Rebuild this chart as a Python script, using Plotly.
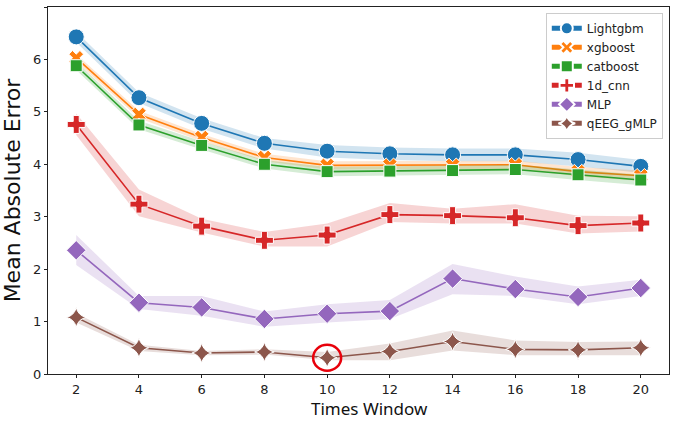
import plotly.graph_objects as go

windows = [2, 4, 6, 8, 10, 12, 14, 16, 18, 20]

lightgbm = [6.43, 5.27, 4.78, 4.40, 4.25, 4.20, 4.18, 4.18, 4.09, 3.96]
lightgbm_lo = [6.33, 5.17, 4.68, 4.30, 4.13, 4.08, 4.06, 4.06, 3.96, 3.84]
lightgbm_hi = [6.53, 5.37, 4.88, 4.50, 4.37, 4.32, 4.30, 4.30, 4.22, 4.08]

xgboost = [6.03, 4.95, 4.51, 4.13, 3.98, 3.98, 3.98, 3.99, 3.86, 3.78]
xgboost_lo = [5.96, 4.88, 4.44, 4.06, 3.90, 3.90, 3.90, 3.91, 3.77, 3.68]
xgboost_hi = [6.10, 5.02, 4.58, 4.20, 4.06, 4.06, 4.06, 4.07, 3.95, 3.88]

catboost = [5.88, 4.75, 4.36, 4.00, 3.86, 3.87, 3.88, 3.90, 3.80, 3.70]
catboost_lo = [5.80, 4.67, 4.28, 3.92, 3.77, 3.78, 3.79, 3.81, 3.70, 3.60]
catboost_hi = [5.96, 4.83, 4.44, 4.08, 3.95, 3.96, 3.97, 3.99, 3.90, 3.80]

cnn1d = [4.76, 3.24, 2.82, 2.55, 2.65, 3.04, 3.02, 2.98, 2.83, 2.88]
cnn1d_lo = [4.56, 3.01, 2.70, 2.43, 2.43, 2.90, 2.87, 2.87, 2.68, 2.72]
cnn1d_hi = [4.97, 3.52, 2.96, 2.71, 2.87, 3.26, 3.15, 3.24, 3.02, 3.01]

mlp = [2.36, 1.36, 1.27, 1.05, 1.15, 1.20, 1.82, 1.62, 1.47, 1.64]
mlp_lo = [2.08, 1.24, 1.11, 0.90, 0.98, 1.05, 1.52, 1.49, 1.33, 1.49]
mlp_hi = [2.65, 1.49, 1.49, 1.19, 1.33, 1.41, 2.10, 1.86, 1.67, 1.80]

qeeg = [1.08, 0.50, 0.40, 0.42, 0.31, 0.43, 0.62, 0.47, 0.46, 0.50]
qeeg_lo = [0.98, 0.44, 0.36, 0.37, 0.26, 0.26, 0.45, 0.36, 0.36, 0.36]
qeeg_hi = [1.16, 0.56, 0.44, 0.47, 0.42, 0.58, 0.83, 0.64, 0.61, 0.62]

highlight_x = 10
highlight_y = 0.31

series = [
    ("Lightgbm", lightgbm, lightgbm_lo, lightgbm_hi, "#1f77b4", "rgba(31,119,180,0.2)", "circle", 16),
    ("xgboost", xgboost, xgboost_lo, xgboost_hi, "#ff7f0e", "rgba(255,127,14,0.2)", "x", 13),
    ("catboost", catboost, catboost_lo, catboost_hi, "#2ca02c", "rgba(44,160,44,0.2)", "square", 12),
    ("1d_cnn", cnn1d, cnn1d_lo, cnn1d_hi, "#d62728", "rgba(214,39,40,0.2)", "cross", 15),
    ("MLP", mlp, mlp_lo, mlp_hi, "#9467bd", "rgba(148,103,189,0.2)", "diamond", 15),
    ("qEEG_gMLP", qeeg, qeeg_lo, qeeg_hi, "#8c564b", "rgba(140,86,75,0.2)", "star-diamond", 14),
]

fig = go.Figure()
for name, vals, lo, hi, color, fill, sym, size in series:
    fig.add_trace(go.Scatter(x=windows, y=lo, mode="lines", line=dict(width=0, color=fill),
                             showlegend=False, hoverinfo="skip"))
    fig.add_trace(go.Scatter(x=windows, y=hi, mode="lines", line=dict(width=0, color=fill),
                             fill="tonexty", fillcolor=fill, showlegend=False, hoverinfo="skip"))
    fig.add_trace(go.Scatter(x=windows, y=vals, mode="lines+markers", name=name,
                             line=dict(color=color, width=1.6),
                             marker=dict(symbol=sym, size=size, color=color,
                                         line=dict(color="white", width=1))))

fig.add_shape(type="circle", xref="x", yref="y", xsizemode="pixel", ysizemode="pixel",
              xanchor=highlight_x, yanchor=highlight_y, x0=-14, x1=14, y0=-13, y1=13,
              line=dict(color="#e8000b", width=2.5))

axis_common = dict(showline=True, linecolor="#222222", linewidth=1, mirror=True,
                   ticks="outside", ticklen=3, tickcolor="#222222", showgrid=False,
                   zeroline=False, automargin=False,
                   tickfont=dict(family="DejaVu Sans", size=13, color="#222222"))

fig.update_xaxes(range=[1.1, 20.9], tickvals=windows, **axis_common)
fig.update_yaxes(range=[0, 7], tickvals=[0, 1, 2, 3, 4, 5, 6, 7], **axis_common,
                 title=dict(text="Mean Absolute Error", font=dict(family="DejaVu Sans", size=22, color="#111111"),
                            standoff=8))

fig.add_annotation(text="Times Window", xref="paper", yref="paper", x=0.517, y=0,
                   yshift=-47, xanchor="center", yanchor="bottom", showarrow=False, borderpad=0,
                   font=dict(family="Noto Sans", size=17, color="#111111"))

fig.update_layout(
    width=673, height=422,
    margin=dict(l=48, r=4, t=7, b=48),
    plot_bgcolor="white", paper_bgcolor="white",
    legend=dict(x=0.99, y=0.984, xanchor="right", yanchor="top", traceorder="normal",
                bgcolor="rgba(255,255,255,0.8)", bordercolor="#cccccc", borderwidth=1,
                font=dict(family="DejaVu Sans", size=12, color="#222222"),
                itemsizing="constant"),
)

fig.write_html("out.html")
